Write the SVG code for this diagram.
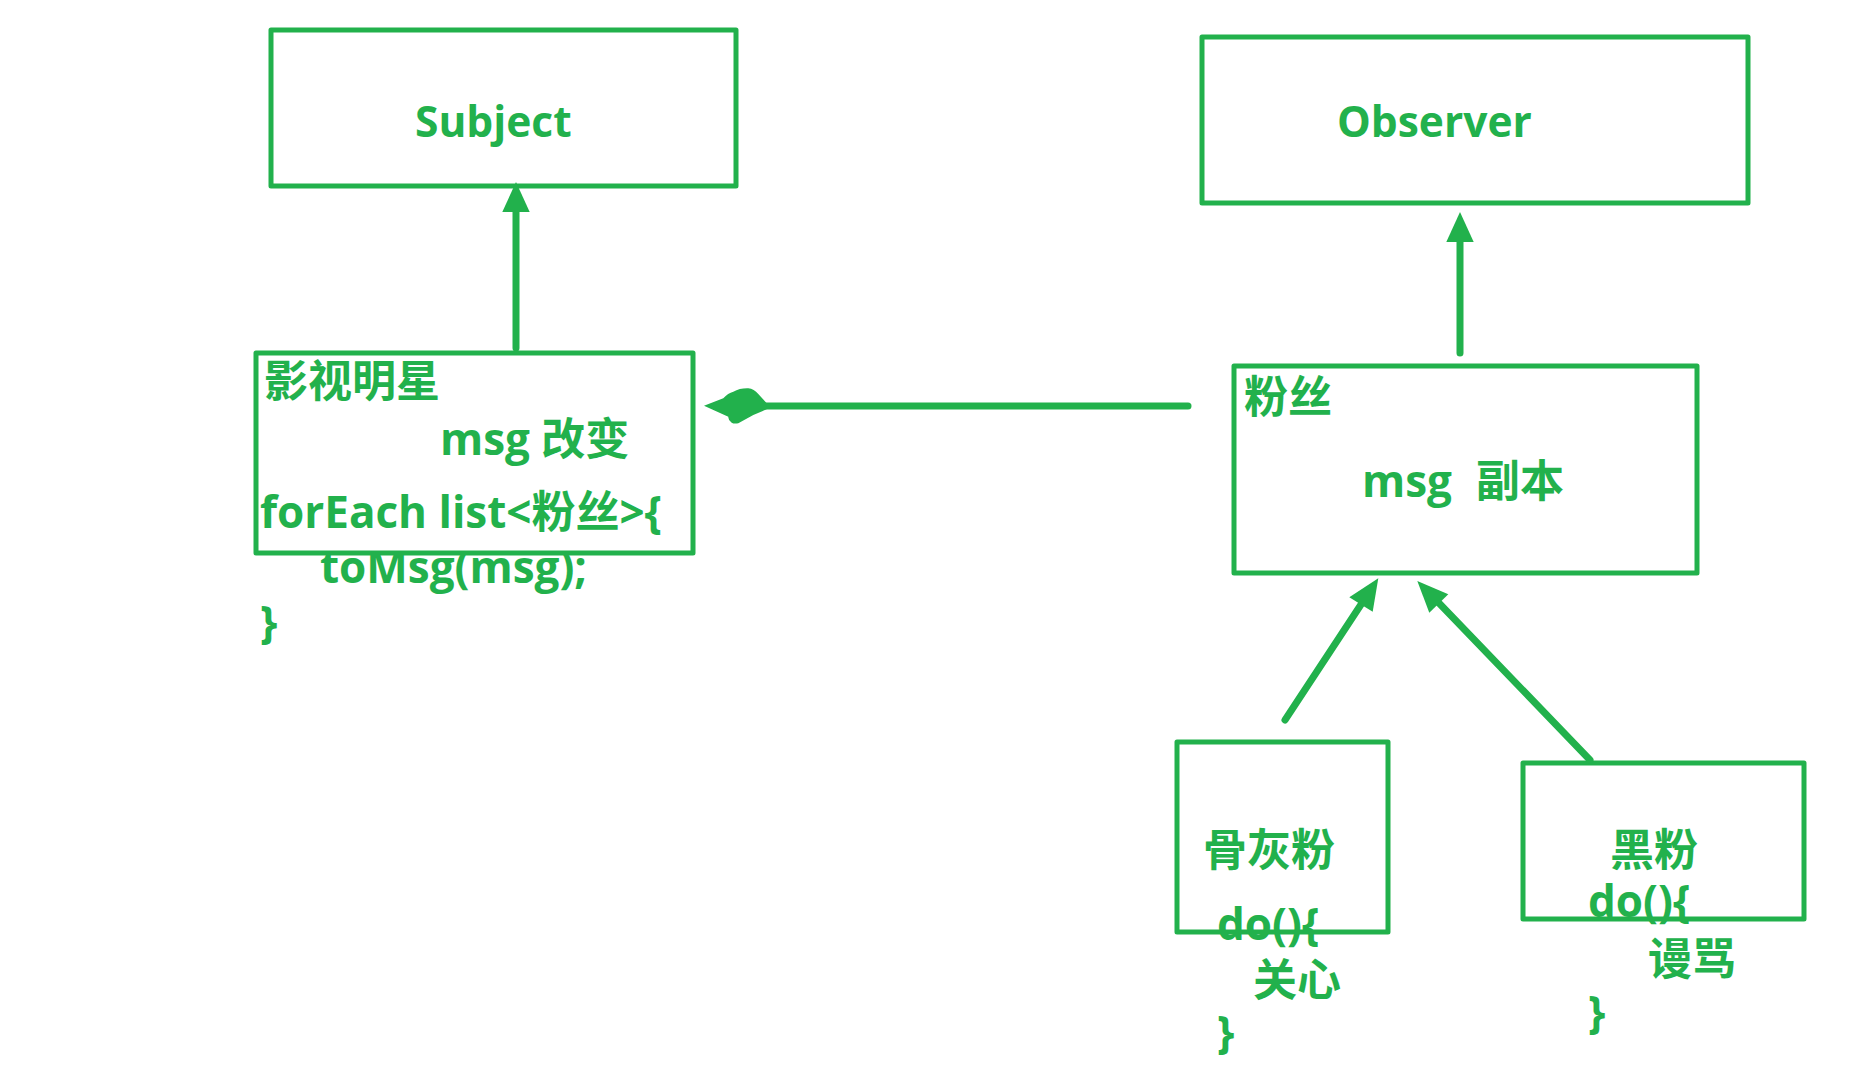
<svg xmlns="http://www.w3.org/2000/svg" width="1855" height="1080" viewBox="0 0 1855 1080">
<style>
.box{fill:none;stroke:#22B14C;stroke-width:5;stroke-linejoin:round}
.t{font-family:"Open Sans","Noto Sans CJK SC",sans-serif;font-weight:bold;font-size:44px;fill:#22B14C}
.h{font-size:42.5px}
.ln{stroke:#22B14C;stroke-width:7;stroke-linecap:round;fill:none}
.ah{fill:#22B14C}
</style>
<rect width="1855" height="1080" fill="#ffffff"/>
<g id="subject">
<rect class="box" x="271" y="30" width="465" height="156"/>
<text class="t h" x="415" y="137">Subject</text>
</g>
<g id="observer">
<rect class="box" x="1202" y="37" width="546" height="166"/>
<text class="t h" x="1337" y="137">Observer</text>
</g>
<g id="star">
<rect class="box" x="256" y="353" width="437" height="200"/>
<text class="t" x="264" y="397">影视明星</text>
<text class="t" x="440" y="455">msg 改变</text>
<text class="t" x="260" y="528">forEach list&lt;粉丝&gt;{</text>
<text class="t" x="320" y="583">toMsg(msg);</text>
<text class="t" x="260" y="638">}</text>
</g>
<g id="fans">
<rect class="box" x="1234" y="366" width="463" height="207"/>
<text class="t" x="1244" y="413">粉丝</text>
<text class="t" x="1362" y="497">msg<tspan x="1476">副本</tspan></text>
</g>
<g id="ashfan">
<rect class="box" x="1177" y="742" width="211" height="190"/>
<text class="t" x="1203" y="866">骨灰粉</text>
<text class="t" x="1217" y="940">do(){</text>
<text class="t" x="1253" y="996">关心</text>
<text class="t" x="1217" y="1048">}</text>
</g>
<g id="blackfan">
<rect class="box" x="1523" y="763" width="281" height="156"/>
<text class="t" x="1610" y="866">黑粉</text>
<text class="t" x="1588" y="917">do(){</text>
<text class="t" x="1648" y="975">谩骂</text>
<text class="t" x="1588" y="1028">}</text>
</g>
<g id="connectors">
<line class="ln" x1="516" y1="348" x2="516" y2="205"/>
<polygon class="ah" points="516,182 529.7,212 502.3,212"/>
<line class="ln" x1="1460" y1="353" x2="1460" y2="235"/>
<polygon class="ah" points="1460,212 1473.7,242 1446.3,242"/>
<line class="ln" x1="1188" y1="406" x2="760" y2="406"/>
<path class="ah" d="M704,405.7 L723.3,398.3 Q728,393 733.3,391.7 Q740,388 748.3,388.3 Q754,389 758.3,394 L766.7,403.3 L766.7,409.3 L753.3,415 L738.3,423.3 Q734,424 731.7,422.7 Q728,420 728.3,416.7 Z"/>
<line class="ln" x1="1285" y1="720" x2="1362" y2="603"/>
<polygon class="ah" points="1378.3,578.3 1349.3,597.3 1372.7,611.7"/>
<line class="ln" x1="1590" y1="760" x2="1437" y2="601"/>
<polygon class="ah" points="1417.3,581 1448.3,594.3 1429.3,612.7"/>
</g>
</svg>
